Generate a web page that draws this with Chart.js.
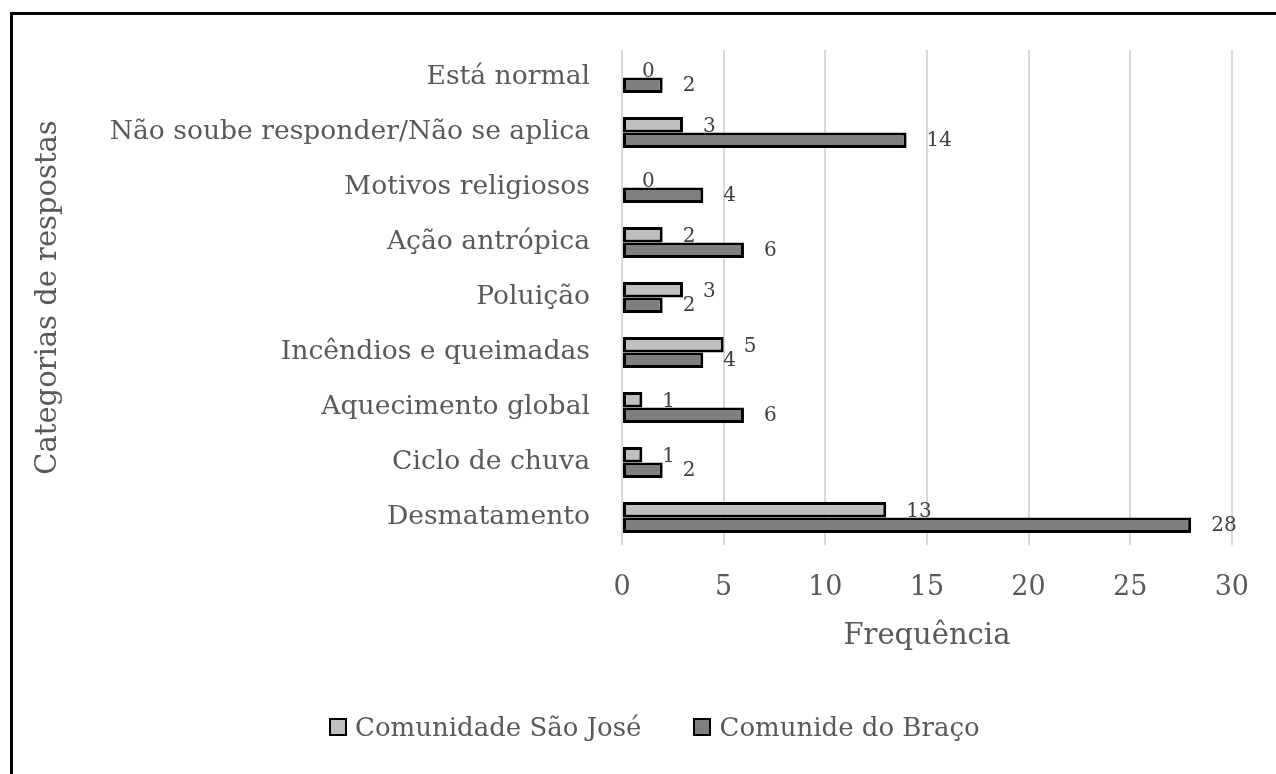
<!DOCTYPE html>
<html>
<head>
<meta charset="utf-8">
<script src="https://cdn.jsdelivr.net/npm/chart.js@4.4.1/dist/chart.umd.min.js"></script>
<style>
  html, body { margin: 0; padding: 0; background: #fff; }
  #wrap { position: relative; width: 1276px; height: 774px; overflow: hidden; }
  #frame { position: absolute; left: 10px; top: 12px; right: -10px; bottom: -10px;
           border-left: 3px solid #000; border-top: 3px solid #000; pointer-events: none; }
  canvas { position: absolute; left: 0; top: 0; }
  #legend { position: absolute; left: 329px; top: 709px; height: 36px;
            display: flex; align-items: center;
            font-family: 'DejaVu Serif', 'Liberation Serif', serif; font-size: 26px; color: #595959; }
  .legend-item { display: flex; align-items: center; margin-right: 52px; white-space: nowrap; }
  .legend-box { width: 14px; height: 14px; border: 2px solid #000; margin-right: 8px; }
</style>
</head>
<body>
<div id="wrap">
  <canvas id="chart" width="1276" height="774"></canvas>
  <div id="legend"></div>
  <div id="frame"></div>
</div>
<script>
/* données */
const categorias = [
  'Está normal',
  'Não soube responder/Não se aplica',
  'Motivos religiosos',
  'Ação antrópica',
  'Poluição',
  'Incêndios e queimadas',
  'Aquecimento global',
  'Ciclo de chuva',
  'Desmatamento'
];
const saoJose = [0, 3, 0, 2, 3, 5, 1, 1, 13];
const braco   = [2, 14, 4, 6, 2, 4, 6, 2, 28];
const xTicks  = [0, 5, 10, 15, 20, 25, 30];

const FONT = "'DejaVu Serif', 'Liberation Serif', serif";
const TEXT = '#595959';

/* étiquettes de valeurs (dessinées sous les barres, comme Excel) */
const valueLabels = {
  id: 'valueLabels',
  beforeDatasetsDraw(chart) {
    const ctx = chart.ctx;
    ctx.save();
    ctx.font = '20px ' + FONT;
    ctx.fillStyle = '#404040';
    ctx.textAlign = 'left';
    ctx.textBaseline = 'middle';
    chart.data.datasets.forEach(function (ds, i) {
      const meta = chart.getDatasetMeta(i);
      meta.data.forEach(function (bar, j) {
        const p = bar.getProps(['x', 'y'], true);
        ctx.fillText(String(ds.data[j]), p.x + 20, p.y + (i === 0 ? 2 : 1));
      });
    });
    ctx.restore();
  }
};

const chart = new Chart(document.getElementById('chart'), {
  type: 'bar',
  data: {
    labels: categorias,
    datasets: [
      {
        label: 'Comunidade São José',
        data: saoJose,
        backgroundColor: '#bfbfbf',
        borderColor: '#000',
        borderWidth: 3,
        borderSkipped: false
      },
      {
        label: 'Comunide do Braço',
        data: braco,
        backgroundColor: '#7f7f7f',
        borderColor: '#000',
        borderWidth: 3,
        borderSkipped: false
      }
    ]
  },
  options: {
    indexAxis: 'y',
    responsive: false,
    animation: false,
    categoryPercentage: 0.56,
    barPercentage: 1,
    layout: { padding: { top: 50, left: 0, right: 44, bottom: 89 } },
    plugins: {
      tooltip: { enabled: false },
      legend: { display: false }
    },
    scales: {
      x: {
        min: 0,
        max: 30,
        afterBuildTicks: function (scale) {
          scale.ticks = xTicks.map(v => ({ value: v }));
        },
        afterFit: function (scale) { scale.height = 140; },
        grid: { color: '#d9d9d9', lineWidth: 2, drawTicks: false },
        border: { display: false },
        ticks: { color: TEXT, font: { family: FONT, size: 27 }, padding: 27 },
        title: {
          display: true,
          text: 'Frequência',
          color: TEXT,
          font: { family: FONT, size: 29 },
          padding: { top: 0, bottom: 31 }
        }
      },
      y: {
        afterFit: function (scale) { scale.width = 622; },
        grid: { display: false, drawTicks: false },
        border: { display: false },
        ticks: { color: TEXT, font: { family: FONT, size: 26.6 }, padding: 32 },
        title: {
          display: true,
          text: 'Categorias de respostas',
          color: TEXT,
          font: { family: FONT, size: 29 },
          padding: { top: 31, bottom: 0 }
        }
      }
    }
  },
  plugins: [valueLabels]
});

/* Légende personnalisée */
const legendEl = document.getElementById('legend');
chart.data.datasets.forEach(function (ds) {
  const item = document.createElement('div');
  item.className = 'legend-item';
  item.innerHTML = `<span class="legend-box" style="background:${ds.backgroundColor}"></span><span>${ds.label}</span>`;
  legendEl.appendChild(item);
});
</script>
</body>
</html>
